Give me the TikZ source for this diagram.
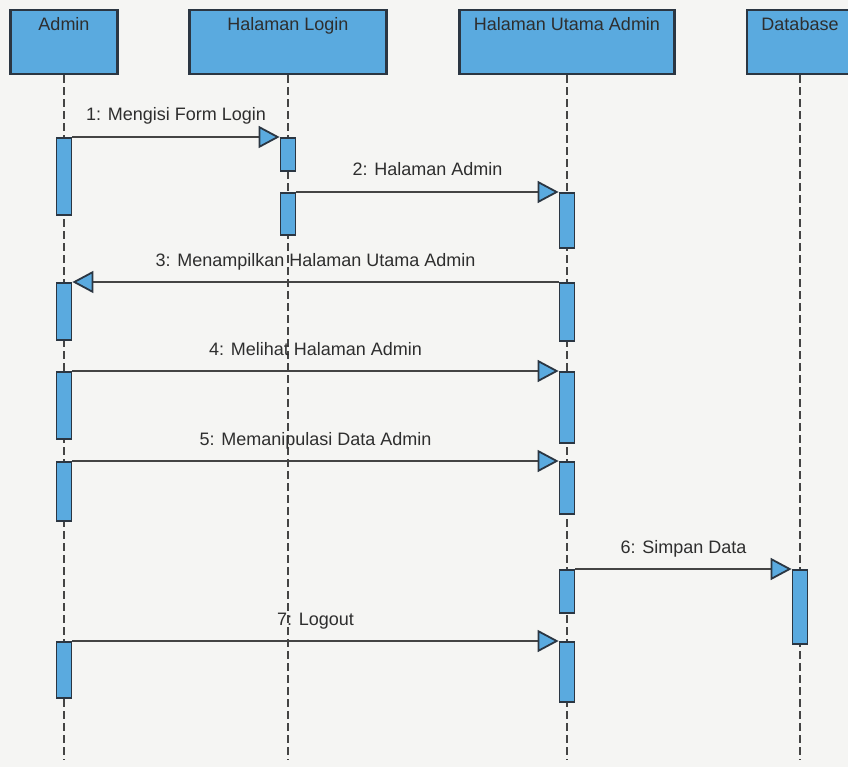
\documentclass[tikz,border=0pt]{standalone}
\usepackage{fontspec}
\setmainfont{Liberation Sans}
\usetikzlibrary{arrows.meta}
\definecolor{bg}{HTML}{F5F5F3}
\definecolor{ublue}{HTML}{5AAADF}
\definecolor{edge}{HTML}{2B3642}
\definecolor{wire}{HTML}{444444}
\definecolor{ink}{HTML}{2E2E2E}

\begin{document}
\begin{tikzpicture}[x=1pt,y=-1pt,
  head/.style={draw=edge, fill=ublue, line width=2.2pt, minimum height=64pt, inner sep=0pt},
  headtxt/.style={anchor=base, text=ink, font=\fontsize{18}{20}\selectfont, inner sep=0pt},
  bar/.style={draw=edge, fill=ublue, line width=1.8pt, minimum width=15pt, anchor=north, inner sep=0pt},
  lifeline/.style={draw=wire, line width=2.2pt, dash pattern=on 8pt off 4pt},
  msg/.style={draw=wire, line width=2pt,
    -{Triangle[length=21pt,width=22pt,color=edge,fill=ublue,line width=1.8pt]}},
  lbl/.style={anchor=base, text=ink, font=\fontsize{18}{20}\selectfont, inner sep=0pt, yshift=16pt}
]
% canvas
\fill[bg] (0,0) rectangle (848,767);
\useasboundingbox (0,0) rectangle (848,767);
\clip (0,0) rectangle (848,767);

% participants
\node[head, minimum width=107pt] (admin) at (64,42) {};
\node[head, minimum width=197pt] (login) at (288,42) {};
\node[head, minimum width=215pt] (utama) at (567,42) {};
\node[head, minimum width=106pt] (db)    at (800,42) {};
\node[headtxt] (admin-t) at ([yshift=-22pt]admin.north) {Admin};
\node[headtxt] (login-t) at ([yshift=-22pt]login.north) {Halaman Login};
\node[headtxt] (utama-t) at ([yshift=-22pt]utama.north) {Halaman Utama Admin};
\node[headtxt] (db-t)    at ([yshift=-22pt]db.north) {Database};

% lifelines
\coordinate (admin-end) at (64,760);
\coordinate (login-end) at (288,760);
\coordinate (utama-end) at (567,760);
\coordinate (db-end)    at (800,760);
\draw[lifeline] (admin.south) -- (admin-end);
\draw[lifeline] (login.south) -- (login-end);
\draw[lifeline] (utama.south) -- (utama-end);
\draw[lifeline] (db.south) -- (db-end);

% activation bars
\node[bar, minimum height=77pt] (a1) at (64,137) {};
\node[bar, minimum height=33pt] (l1) at (288,137) {};
\node[bar, minimum height=42pt] (l2) at (288,192) {};
\node[bar, minimum height=55pt] (u1) at (567,192) {};
\node[bar, minimum height=57pt] (a2) at (64,282) {};
\node[bar, minimum height=58pt] (u2) at (567,282) {};
\node[bar, minimum height=67pt] (a3) at (64,371) {};
\node[bar, minimum height=71pt] (u3) at (567,371) {};
\node[bar, minimum height=59pt] (a4) at (64,461) {};
\node[bar, minimum height=52pt] (u4) at (567,461) {};
\node[bar, minimum height=43pt] (u5) at (567,569) {};
\node[bar, minimum height=74pt] (d1) at (800,569) {};
\node[bar, minimum height=56pt] (a5) at (64,641) {};
\node[bar, minimum height=60pt] (u6) at (567,641) {};

% messages
\draw[msg] (a1.north east) -- node[lbl] (m1) {1: Mengisi Form Login} (l1.north west);
\draw[msg] (l2.north east) -- node[lbl] (m2) {2: Halaman Admin} (u1.north west);
\draw[msg] (u2.north west) -- node[lbl] (m3) {3: Menampilkan Halaman Utama Admin} (a2.north east);
\draw[msg] (a3.north east) -- node[lbl] (m4) {4: Melihat Halaman Admin} (u3.north west);
\draw[msg] (a4.north east) -- node[lbl] (m5) {5: Memanipulasi Data Admin} (u4.north west);
\draw[msg] (u5.north east) -- node[lbl] (m6) {6: Simpan Data} (d1.north west);
\draw[msg] (a5.north east) -- node[lbl] (m7) {7: Logout} (u6.north west);
\end{tikzpicture}
\end{document}
